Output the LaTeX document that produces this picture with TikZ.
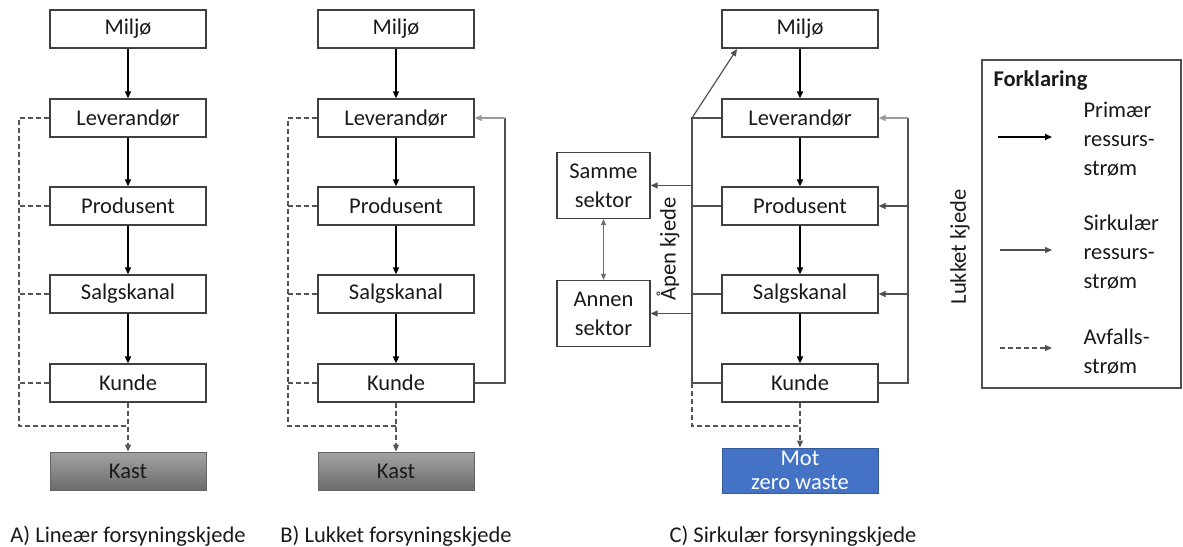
\documentclass[tikz,border=0pt]{standalone}
\usepackage{fontspec}
\setmainfont{Carlito}
\usetikzlibrary{arrows.meta}
\definecolor{coltxt}{HTML}{1A1A1A}
\definecolor{coledge}{HTML}{404040}
\definecolor{colthin}{HTML}{505050}
\definecolor{collight}{HTML}{9A9A9A}
\definecolor{coldash}{HTML}{555555}
\definecolor{colblue}{HTML}{4472C4}
\begin{document}
\begin{tikzpicture}[x=1pt,y=-1pt,
  every node/.style={font=\fontsize{22.5}{29}\selectfont, text=coltxt},
  box/.style={draw=coledge, line width=1.3pt, fill=white, minimum width=156pt, minimum height=38pt, inner sep=0pt, align=center},
  sbox/.style={draw=coledge, line width=1.3pt, fill=white, minimum width=93pt, minimum height=66pt, inner sep=0pt, align=center},
  kast/.style={draw=coledge!80, line width=1pt, top color=black!36, bottom color=black!58, minimum width=156pt, minimum height=38pt, inner sep=0pt},
  motbox/.style={draw=colblue!80!black, line width=1pt, fill=colblue, minimum width=156pt, minimum height=45pt, inner sep=0pt, align=center, text=white, font=\fontsize{22.5}{23.5}\selectfont},
  tip/.style={-{Triangle[length=7pt,width=6pt]}},
  primary/.style={tip, line width=2.2pt, black},
  circ/.style={line width=1.2pt, colthin},
  circarrow/.style={circ, tip},
  waste/.style={line width=1.1pt, coldash, dash pattern=on 5pt off 3pt},
  wastearrow/.style={waste, tip},
  caption/.style={anchor=center}
]
\useasboundingbox (0,0) rectangle (1183,546);

% ---------------- Panel A ----------------
\node[box] (aM) at (128,29) {Miljø};
\node[box] (aL) at (128,118) {Leverandør};
\node[box] (aP) at (128,206) {Produsent};
\node[box] (aS) at (128,294) {Salgskanal};
\node[box] (aK) at (128,383) {Kunde};
\node[kast] (aX) at (128,471) {Kast};
\draw[primary] (aM) -- (aL);
\draw[primary] (aL) -- (aP);
\draw[primary] (aP) -- (aS);
\draw[primary] (aS) -- (aK);
\coordinate (aTL) at (19,118);
\coordinate (aBL) at (19,426);
\coordinate (aBR) at (128,426);
\draw[waste] (aL.west) -- (aTL) -- (aBL) -- (aBR);
\draw[waste] (aP.west) -- (aP.west -| aTL);
\draw[waste] (aS.west) -- (aS.west -| aTL);
\draw[waste] (aK.west) -- (aK.west -| aTL);
\draw[wastearrow] (aK.south) -- (aX.north);
\node[caption] (capA) at (128,536) {A) Lineær forsyningskjede};

% ---------------- Panel B ----------------
\node[box] (bM) at (396,29) {Miljø};
\node[box] (bL) at (396,118) {Leverandør};
\node[box] (bP) at (396,206) {Produsent};
\node[box] (bS) at (396,294) {Salgskanal};
\node[box] (bK) at (396,383) {Kunde};
\node[kast] (bX) at (396,471) {Kast};
\draw[primary] (bM) -- (bL);
\draw[primary] (bL) -- (bP);
\draw[primary] (bP) -- (bS);
\draw[primary] (bS) -- (bK);
\coordinate (bTL) at (288,118);
\coordinate (bBL) at (288,426);
\coordinate (bBR) at (396,426);
\draw[waste] (bL.west) -- (bTL) -- (bBL) -- (bBR);
\draw[waste] (bP.west) -- (bP.west -| bTL);
\draw[waste] (bS.west) -- (bS.west -| bTL);
\draw[waste] (bK.west) -- (bK.west -| bTL);
\draw[wastearrow] (bK.south) -- (bX.north);
\coordinate (bRB) at (505,383);
\coordinate (bRT) at (505,118);
\draw[circ] (bK.east) -- (bRB) -- (bRT);
\draw[circarrow, collight] (bRT) -- (bL.east);
\node[caption] (capB) at (396,536) {B) Lukket forsyningskjede};

% ---------------- Panel C ----------------
\node[box] (cM) at (800,29) {Miljø};
\node[box] (cL) at (800,118) {Leverandør};
\node[box] (cP) at (800,206) {Produsent};
\node[box] (cS) at (800,294) {Salgskanal};
\node[box] (cK) at (800,383) {Kunde};
\node[motbox] (cZ) at (800,470.5) {Mot\\zero waste};
\node[sbox] (cSS) at (603.5,185.5) {Samme\\sektor};
\node[sbox] (cAS) at (603.5,313.5) {Annen\\sektor};
\draw[primary] (cM) -- (cL);
\draw[primary] (cL) -- (cP);
\draw[primary] (cP) -- (cS);
\draw[primary] (cS) -- (cK);
% open chain (left)
\coordinate (cLT) at (692,118);
\coordinate (cLB) at (692,383);
\coordinate (cDB) at (692,426);
\coordinate (cDR) at (800,426);
\coordinate (cMt) at (737,49);
\draw[circ] (cL.west) -- (cLT) -- (cLB) -- (cK.west);
\draw[circ] (cP.west) -- (cP.west -| cLT);
\draw[circ] (cS.west) -- (cS.west -| cLT);
\draw[circarrow] (cLT) -- (cMt);
\draw[circarrow] (cLT |- cSS.east) -- (cSS.east);
\draw[circarrow] (cLT |- cAS.east) -- (cAS.east);
\draw[line width=0.9pt, collight!70!black, {Triangle[length=6pt,width=5pt]}-{Triangle[length=6pt,width=5pt]}] (cSS.south) -- (cAS.north);
\draw[waste] (cLB) -- (cDB) -- (cDR);
\draw[wastearrow] (cK.south) -- (cZ.north);
\node[rotate=90] (open) at (668,249) {Åpen kjede};
% closed chain (right)
\coordinate (cRT) at (908,118);
\coordinate (cRB) at (908,383);
\draw[circ] (cK.east) -- (cRB) -- (cRT);
\draw[circarrow, collight] (cRT) -- (cL.east);
\draw[circarrow] (cRT |- cP.east) -- (cP.east);
\draw[circarrow] (cRT |- cS.east) -- (cS.east);
\node[caption] (capC) at (793,536) {C) Sirkulær forsyningskjede};

% ---------------- Legend ----------------
\node[rotate=90] (closed) at (960,247) {Lukket kjede};
\node[draw=colthin, line width=1.2pt, minimum width=199pt, minimum height=328pt, inner sep=0pt] (leg) at (1081.5,224) {};
\node[anchor=west, font=\fontsize{22.5}{29}\selectfont\bfseries] (legT) at (990,81) {Forklaring};
\coordinate (l1a) at (998,137);
\coordinate (l1b) at (1052,137);
\draw[primary] (l1a) -- (l1b);
\node[anchor=west, align=left] (l1t) at (1080,139) {Primær\\ressurs-\\strøm};
\coordinate (l2a) at (1000,250);
\coordinate (l2b) at (1052,250);
\draw[circarrow] (l2a) -- (l2b);
\node[anchor=west, align=left] (l2t) at (1080,252) {Sirkulær\\ressurs-\\strøm};
\coordinate (l3a) at (1000,348);
\coordinate (l3b) at (1052,348);
\draw[wastearrow] (l3a) -- (l3b);
\node[anchor=west, align=left] (l3t) at (1080,352) {Avfalls-\\strøm};
\end{tikzpicture}
\end{document}
